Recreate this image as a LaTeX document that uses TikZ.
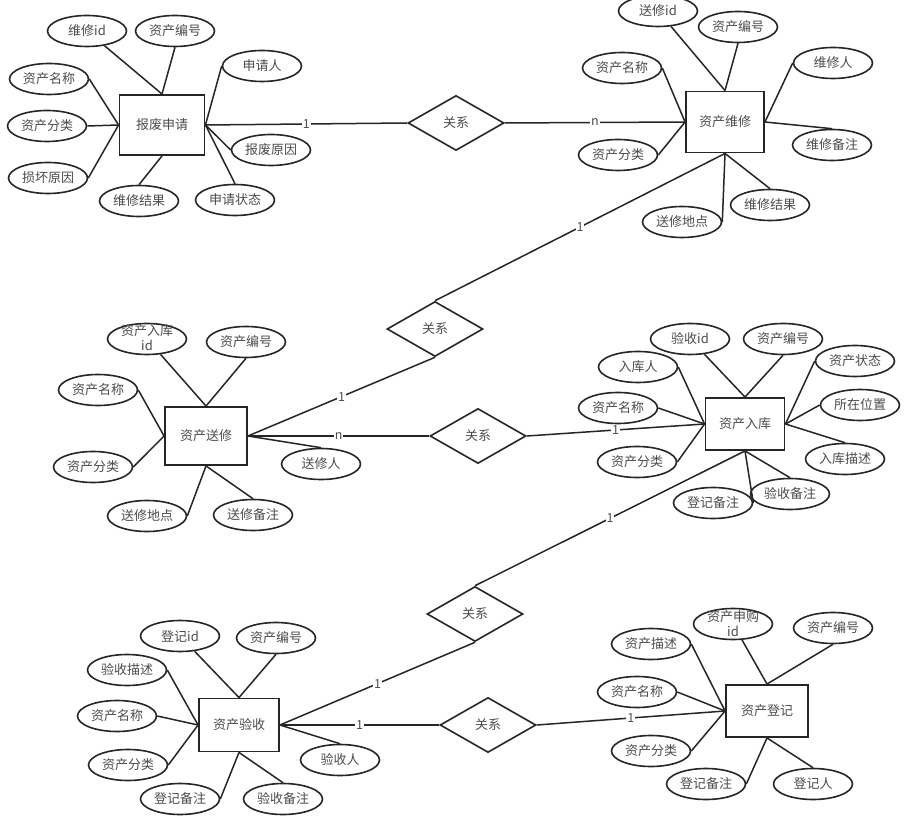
\documentclass[tikz,border=0pt]{standalone}
\usepackage{fontspec}
\setmainfont{Noto Sans CJK SC}
\usetikzlibrary{shapes.geometric}
\tikzset{
	entity/.style={rectangle, draw, line width=1.9pt, minimum width=80pt, minimum height=56pt, text=black!70, font=\fontsize{13}{15}\selectfont},
	attr/.style={ellipse, draw, line width=1.6pt, minimum width=79pt, minimum height=31pt, inner sep=0pt, text=black!70, font=\fontsize{13}{15}\selectfont},
	rel/.style={diamond, draw, line width=1.6pt, minimum width=96pt, minimum height=55pt, inner sep=0pt, text=black!70, font=\fontsize{13}{15}\selectfont},
	card/.style={fill=white, inner sep=1pt, text=black!70, font=\fontsize{12.5}{12}\selectfont},
}

\begin{document}
\begin{tikzpicture}[x=1pt, y=1pt, line width=1.5pt, color=black!85]
			\useasboundingbox (0,0) rectangle (904,820);
			\fill[white] (0,0) rectangle (904,820);

			\node[entity, minimum width=85pt, minimum height=60pt] (SCRAP) at (162,695) {报废申请};
			\node[entity, minimum width=78pt, minimum height=61pt] (REPAIR) at (725,698) {资产维修};
			\node[entity, minimum width=82pt, minimum height=58pt] (SEND) at (206,384) {资产送修};
			\node[entity, minimum width=79pt, minimum height=52pt] (STOCK) at (745,396) {资产入库};
			\node[entity, minimum width=80pt, minimum height=53pt] (CHECK) at (239,95) {资产验收};
			\node[entity, minimum width=82pt, minimum height=52pt] (REG) at (767,109) {资产登记};

			\node[rel] (r1) at (456,697) {关系};
			\node[rel] (r2) at (435,491) {关系};
			\node[rel] (r3) at (478,384) {关系};
			\node[rel] (r4) at (475,206) {关系};
			\node[rel] (r5) at (488,95) {关系};

			% 报废申请
			\node[attr, xshift=-75, yshift=94] (sc1) at (SCRAP) {维修id};
			\node[attr, xshift=13, yshift=94] (sc2) at (SCRAP) {资产编号};
			\node[attr, xshift=100, yshift=59] (sc3) at (SCRAP) {申请人};
			\node[attr, xshift=-113, yshift=46] (sc4) at (SCRAP) {资产名称};
			\node[attr, xshift=-115, yshift=-1] (sc5) at (SCRAP) {资产分类};
			\node[attr, xshift=109, yshift=-25] (sc6) at (SCRAP) {报废原因};
			\node[attr, xshift=-114, yshift=-53] (sc7) at (SCRAP) {损坏原因};
			\node[attr, xshift=-23, yshift=-76] (sc8) at (SCRAP) {维修结果};
			\node[attr, xshift=73, yshift=-75] (sc9) at (SCRAP) {申请状态};

			% 资产维修
			\node[attr, xshift=-67, yshift=111] (rp1) at (REPAIR) {送修id};
			\node[attr, xshift=13, yshift=95] (rp2) at (REPAIR) {资产编号};
			\node[attr, xshift=-103, yshift=54] (rp3) at (REPAIR) {资产名称};
			\node[attr, xshift=108, yshift=59] (rp4) at (REPAIR) {维修人};
			\node[attr, xshift=107, yshift=-23] (rp5) at (REPAIR) {维修备注};
			\node[attr, xshift=-107, yshift=-33] (rp6) at (REPAIR) {资产分类};
			\node[attr, xshift=45, yshift=-83] (rp7) at (REPAIR) {维修结果};
			\node[attr, xshift=-43, yshift=-100] (rp8) at (REPAIR) {送修地点};

			% 资产送修
			\node[attr, xshift=-59, yshift=97] (sd1) at (SEND) {\raisebox{-12pt}[0pt][0pt]{\begin{tabular}[b]{@{}c@{}}资产入库\\id\end{tabular}}};
			\node[attr, xshift=40, yshift=94] (sd2) at (SEND) {资产编号};
			\node[attr, xshift=-108, yshift=46] (sd3) at (SEND) {资产名称};
			\node[attr, xshift=-113, yshift=-31] (sd4) at (SEND) {资产分类};
			\node[attr, xshift=115, yshift=-28] (sd5) at (SEND) {送修人};
			\node[attr, xshift=-59, yshift=-80] (sd6) at (SEND) {送修地点};
			\node[attr, xshift=47, yshift=-79] (sd7) at (SEND) {送修备注};

			% 资产入库
			\node[attr, xshift=-55, yshift=85] (st1) at (STOCK) {验收id};
			\node[attr, xshift=38, yshift=85] (st2) at (STOCK) {资产编号};
			\node[attr, xshift=-107, yshift=57] (st3) at (STOCK) {入库人};
			\node[attr, xshift=110, yshift=63] (st4) at (STOCK) {资产状态};
			\node[attr, xshift=-127, yshift=16] (st5) at (STOCK) {资产名称};
			\node[attr, xshift=115, yshift=19] (st6) at (STOCK) {所在位置};
			\node[attr, xshift=100, yshift=-35] (st7) at (STOCK) {入库描述};
			\node[attr, xshift=-108, yshift=-38] (st8) at (STOCK) {资产分类};
			\node[attr, xshift=45, yshift=-70] (st9) at (STOCK) {验收备注};
			\node[attr, xshift=-32, yshift=-79] (st10) at (STOCK) {登记备注};

			% 资产验收
			\node[attr, xshift=-59, yshift=89] (ck1) at (CHECK) {登记id};
			\node[attr, xshift=37, yshift=87] (ck2) at (CHECK) {资产编号};
			\node[attr, xshift=-112, yshift=55] (ck3) at (CHECK) {验收描述};
			\node[attr, xshift=-122, yshift=9] (ck4) at (CHECK) {资产名称};
			\node[attr, xshift=-111, yshift=-40] (ck5) at (CHECK) {资产分类};
			\node[attr, xshift=-59, yshift=-74] (ck6) at (CHECK) {登记备注};
			\node[attr, xshift=44, yshift=-74] (ck7) at (CHECK) {验收备注};
			\node[attr, xshift=101, yshift=-35] (ck8) at (CHECK) {验收人};

			% 资产登记
			\node[attr, xshift=-34, yshift=87] (rg1) at (REG) {\raisebox{-12pt}[0pt][0pt]{\begin{tabular}[b]{@{}c@{}}资产申购\\id\end{tabular}}};
			\node[attr, xshift=66, yshift=83] (rg2) at (REG) {资产编号};
			\node[attr, xshift=-116, yshift=67] (rg3) at (REG) {资产描述};
			\node[attr, xshift=-130, yshift=19] (rg4) at (REG) {资产名称};
			\node[attr, xshift=-116, yshift=-40] (rg5) at (REG) {资产分类};
			\node[attr, xshift=-61, yshift=-73] (rg6) at (REG) {登记备注};
			\node[attr, xshift=46, yshift=-73] (rg7) at (REG) {登记人};

			\draw (sc1) -- (SCRAP.north);
			\draw (sc2.south) -- (SCRAP.north);
			\draw (sc3.west) -- (SCRAP.east);
			\draw (sc4.east) -- (SCRAP.west);
			\draw (sc5.east) -- (SCRAP.west);
			\draw (sc6.west) -- (SCRAP.east);
			\draw (sc7.east) -- (SCRAP.west);
			\draw (sc8.north) -- (SCRAP.south);
			\draw (sc9.north) -- (SCRAP.east);

			\draw (rp1) -- (REPAIR.north);
			\draw (rp2.south) -- (REPAIR.north);
			\draw (rp3.east) -- (REPAIR.west);
			\draw (rp4.west) -- (REPAIR.east);
			\draw (rp5.north) -- (REPAIR.east);
			\draw (rp6.east) -- (REPAIR.west);
			\draw (rp7.north) -- (REPAIR.south);
			\draw (rp8.east) -- (REPAIR.south);

			\draw (sd1) -- (SEND.north);
			\draw (sd2.south) -- (SEND.north);
			\draw (sd3.east) -- (SEND.west);
			\draw (sd4.east) -- (SEND.west);
			\draw (sd5.north) -- (SEND.east);
			\draw (sd6.east) -- (SEND.south);
			\draw (sd7.north) -- (SEND.south);

			\draw (st1) -- (STOCK.north);
			\draw (st2.south) -- (STOCK.north);
			\draw (st3.east) -- (STOCK.west);
			\draw (st4.west) -- (STOCK.east);
			\draw (st5.east) -- (STOCK.west);
			\draw (st6.west) -- (STOCK.east);
			\draw (st7.north) -- (STOCK.east);
			\draw (st8.east) -- (STOCK.west);
			\draw (st9.north) -- (STOCK.south);
			\draw (st10.east) -- (STOCK.south);

			\draw (ck1) -- (CHECK.north);
			\draw (ck2.south) -- (CHECK.north);
			\draw (ck3.east) -- (CHECK.west);
			\draw (ck4.east) -- (CHECK.west);
			\draw (ck5.east) -- (CHECK.west);
			\draw (ck6.east) -- (CHECK.south);
			\draw (ck7.north) -- (CHECK.south);
			\draw (ck8.north) -- (CHECK.east);

			\draw (rg1) -- (REG.north);
			\draw (rg2.south) -- (REG.north);
			\draw (rg3.east) -- (REG.west);
			\draw (rg4.east) -- (REG.west);
			\draw (rg5.east) -- (REG.west);
			\draw (rg6.east) -- (REG.south);
			\draw (rg7.north) -- (REG.south);

			% relations
			\draw (SCRAP.east) edge node[card, pos=0.5]{1} (r1.west);
			\draw (r1.east) edge node[card, pos=0.5]{n} (REPAIR.west);
			\draw (REPAIR.south) edge node[card, pos=0.5]{1} (r2.north);
			\draw (r2.south) edge node[card, pos=0.5]{1} (SEND.east);
			\draw (SEND.east) edge node[card, pos=0.5]{n} (r3.west);
			\draw (r3.east) edge node[card, pos=0.5]{1} (STOCK.west);
			\draw (STOCK.south) edge node[card, pos=0.5]{1} (r4.north);
			\draw (r4.south) edge node[card, pos=0.5]{1} (CHECK.east);
			\draw (CHECK.east) edge node[card, pos=0.5]{1} (r5.west);
			\draw (r5.east) edge node[card, pos=0.5]{1} (REG.west);
		\end{tikzpicture}
\end{document}
